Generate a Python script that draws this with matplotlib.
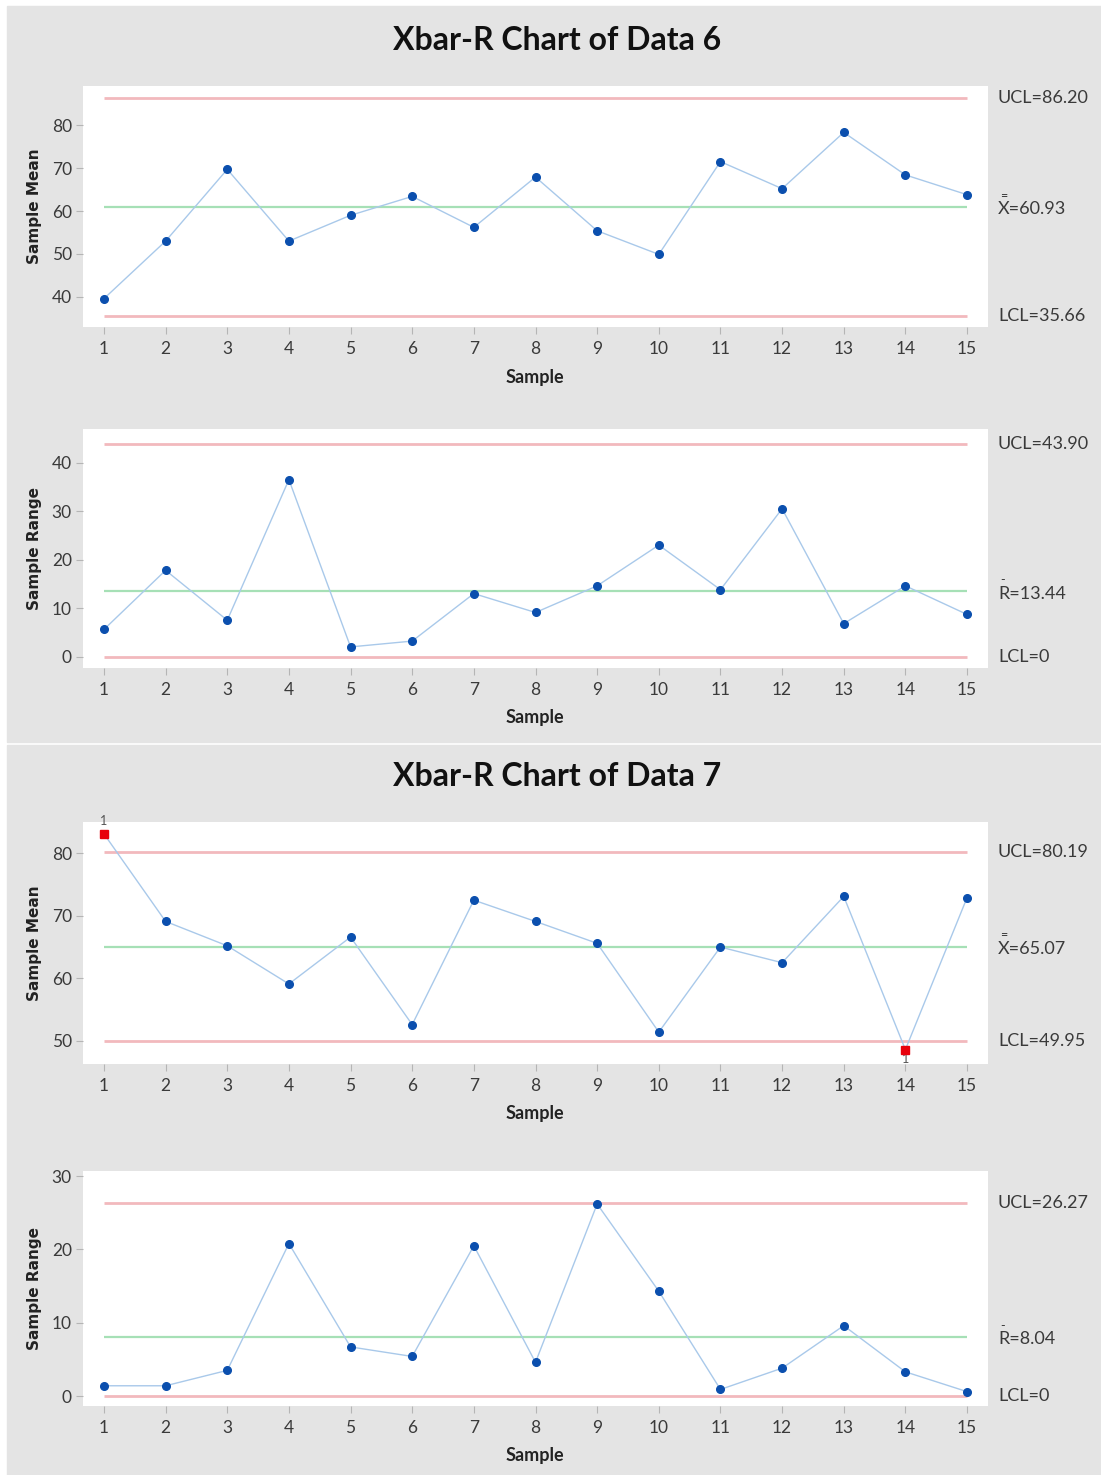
import matplotlib.pyplot as plt
import matplotlib.transforms as mtransforms
from matplotlib.patches import Rectangle

# Data
samples = list(range(1, 16))

mean6 = [39.6, 53.0, 69.7, 53.0, 59.0, 63.4, 56.2, 67.9, 55.4, 49.9, 71.5, 65.2, 78.3, 68.4, 63.8]
range6 = [5.6, 17.8, 7.5, 36.5, 2.0, 3.2, 13.0, 9.1, 14.6, 23.0, 13.8, 30.5, 6.8, 14.6, 8.7]
mean7 = [83.1, 69.1, 65.2, 59.1, 66.6, 52.6, 72.5, 69.1, 65.6, 51.4, 65.0, 62.5, 73.1, 48.6, 72.9]
range7 = [1.4, 1.4, 3.5, 20.8, 6.7, 5.4, 20.5, 4.6, 26.2, 14.3, 0.9, 3.8, 9.6, 3.3, 0.6]

limits6_mean = (86.20, 60.93, 35.66)
limits6_range = (43.90, 13.44, 0)
limits7_mean = (80.19, 65.07, 49.95)
limits7_range = (26.27, 8.04, 0)

W, H = 1101, 1475
fig = plt.figure(figsize=(W / 100, H / 100), dpi=100)
fig.patch.set_facecolor("white")

GRAY = "#e4e4e4"
fig.patches.append(Rectangle((7 / W, 1 - 742 / H), 1, (742 - 6) / H,
                             transform=fig.transFigure, color=GRAY, zorder=-10))
fig.patches.append(Rectangle((7 / W, 0), 1, 1 - 745 / H,
                             transform=fig.transFigure, color=GRAY, zorder=-10))

TICKFONT = "Lato"
BLUE = "#0b4fae"
LINE = "#a9c9ea"
CLCOL = "#a6e0b6"
LIMCOL = "#f2b9bd"
TXT = "#3a3a3a"


def fmt(v):
    return "0" if v == 0 else f"{v:.2f}"


def panel(top, bottom, vals, lims, ylim, yticks, ylabel, cname, ooc=()):
    ax = fig.add_axes([83 / W, 1 - bottom / H, 905 / W, (bottom - top) / H])
    ax.set_facecolor("white")
    for s in ax.spines.values():
        s.set_visible(False)
    ax.set_xlim(0.66, 15.34)
    ax.set_ylim(*ylim)
    ax.set_xticks(samples)
    ax.set_yticks(yticks)
    ax.tick_params(colors="#b5b5b5", labelcolor=TXT, length=5, width=0.8)
    ax.tick_params(axis="x", pad=5)
    ax.tick_params(axis="y", pad=3)
    for lab in ax.get_xticklabels() + ax.get_yticklabels():
        lab.set_fontfamily(TICKFONT)
        lab.set_fontsize(12.5)

    ucl, cl, lcl = lims
    ax.hlines([ucl, lcl], 1, 15, color=LIMCOL, lw=2, zorder=1)
    ax.hlines(cl, 1, 15, color=CLCOL, lw=1.6, zorder=1)

    ax.plot(samples, vals, color=LINE, lw=1, zorder=2)
    normal = [i for i in range(15) if i not in ooc]
    ax.plot([samples[i] for i in normal], [vals[i] for i in normal], "o",
            color=BLUE, ms=5.5, zorder=3)
    for i in ooc:
        ax.plot(samples[i], vals[i], "s", color="#e8000b", ms=6, zorder=4)
        below = vals[i] < lcl
        ax.annotate("1", (samples[i], vals[i]), xytext=(0, -7 if below else 9),
                    textcoords="offset points", ha="center", va="center",
                    fontsize=9, color="#555555", family=TICKFONT)

    tr = mtransforms.blended_transform_factory(ax.transAxes, ax.transData)
    kw = dict(transform=tr, fontsize=13, color=TXT, family=TICKFONT, va="center")
    ax.text(1.011, ucl, "UCL=" + fmt(ucl), **kw)
    ax.text(1.011, lcl, "LCL=" + fmt(lcl), **kw)
    ax.annotate(cname + "=" + fmt(cl), (1.011, cl), xycoords=tr, xytext=(0, -1.5),
                textcoords="offset points", fontsize=13, color=TXT,
                family=TICKFONT, va="center")
    bar = "=" if cname == "X" else "-"
    ax.annotate(bar, (1.011, cl), xycoords=tr, xytext=(1.5, 8), textcoords="offset points",
                fontsize=9, color=TXT, family=TICKFONT, va="center")

    fig.text(34 / W, 1 - (top + bottom) / 2 / H, ylabel, rotation=90, ha="center",
             va="center", fontsize=11, fontweight="bold", family="DejaVu Sans", color="#222222")
    fig.text(535 / W, 1 - (bottom + 50) / H, "Sample", ha="center", va="center",
             fontsize=13, fontweight="bold", family=TICKFONT, color="#222222")
    return ax


fig.text(557 / W, 1 - 40 / H, "Xbar-R Chart of Data 6", ha="center", va="center",
         fontsize=23, fontweight="bold", family=TICKFONT, color="#111111")
fig.text(557 / W, 1 - 777 / H, "Xbar-R Chart of Data 7", ha="center", va="center",
         fontsize=23, fontweight="bold", family=TICKFONT, color="#111111")

panel(86, 327, mean6, limits6_mean, (33.0, 89.1), [40, 50, 60, 70, 80], "Sample Mean", "X")
panel(429, 668, range6, limits6_range, (-2.35, 46.95), [0, 10, 20, 30, 40], "Sample Range", "R")
panel(822, 1064, mean7, limits7_mean, (46.3, 85.0), [50, 60, 70, 80], "Sample Mean", "X",
      ooc=(0, 13))
panel(1171, 1406, range7, limits7_range, (-1.36, 30.7), [0, 10, 20, 30], "Sample Range", "R")

fig.savefig("out.png", dpi=100)
